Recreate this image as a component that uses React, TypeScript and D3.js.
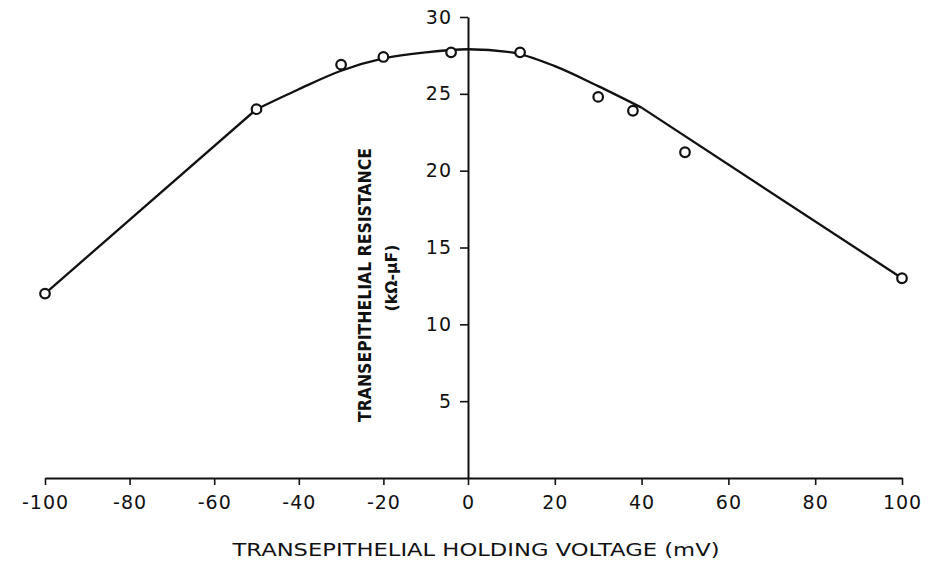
import { useEffect, useRef } from "react";
import * as d3 from "d3";

const WIDTH = 928;
const HEIGHT = 563;

// axis ticks
const X_TICKS = [-100, -80, -60, -40, -20, 0, 20, 40, 60, 80, 100];
const Y_TICKS = [5, 10, 15, 20, 25, 30];

// measured points (holding voltage mV, resistance kOhm-uF)
const POINT_V = [-100, -50, -30, -20, -4, 12, 30, 38, 50, 100];
const POINT_R = [12.0, 24.0, 26.9, 27.4, 27.7, 27.7, 24.8, 23.9, 21.2, 13.0];

// hand drawn fit: straight on both flanks, curved on top
const LEFT_V = [-100, -50];
const LEFT_R = [12.0, 24.0];
const TOP_V = [-50, -40, -30, -20, -10, 0, 10, 20, 30, 40];
const TOP_R = [24.0, 25.3, 26.5, 27.3, 27.7, 27.9, 27.7, 26.8, 25.5, 24.1];
const RIGHT_V = [40, 100];
const RIGHT_R = [24.1, 13.0];

const FONT = "'DejaVu Sans', sans-serif";

export default function App() {
  const xAxisRef = useRef<SVGGElement>(null);
  const yAxisRef = useRef<SVGGElement>(null);

  // the scan is not quite linear around 0, so a piecewise scale
  const xScale = d3.scaleLinear().domain([-100, 0, 100]).range([45, 468, 902]);
  const yScale = d3.scaleLinear().domain([0, 30]).range([478, 17]);

  useEffect(() => {
    const gx = d3.select(xAxisRef.current);
    gx.selectAll("*").remove();
    gx.call(
      d3
        .axisBottom(xScale)
        .tickValues(X_TICKS)
        .tickSize(7)
        .tickSizeOuter(0)
        .tickPadding(11)
        .tickFormat((d) => String(d))
    );
    gx.select(".domain").attr("stroke", "#111").attr("stroke-width", 2);
    gx.selectAll(".tick line").attr("stroke", "#111").attr("stroke-width", 1.6);
    gx.selectAll(".tick text")
      .attr("fill", "#111")
      .attr("font-family", FONT)
      .attr("font-size", 19)
      .attr("letter-spacing", 1);

    const gy = d3.select(yAxisRef.current);
    gy.selectAll("*").remove();
    gy.call(d3.axisLeft(yScale).tickValues(Y_TICKS).tickSize(8).tickSizeOuter(0).tickPadding(8));
    gy.select(".domain").attr("stroke", "#111").attr("stroke-width", 2);
    gy.selectAll(".tick line").attr("stroke", "#111").attr("stroke-width", 1.6);
    gy.selectAll(".tick text")
      .attr("fill", "#111")
      .attr("font-family", FONT)
      .attr("font-size", 19)
      .attr("letter-spacing", 1);
  }, []);

  const pairs = (vs: number[], rs: number[]) => vs.map((v, i) => [v, rs[i]] as [number, number]);
  const straight = d3
    .line<[number, number]>()
    .x((d) => xScale(d[0]))
    .y((d) => yScale(d[1]));
  const smooth = d3
    .line<[number, number]>()
    .x((d) => xScale(d[0]))
    .y((d) => yScale(d[1]))
    .curve(d3.curveMonotoneX);

  const fitPaths = [
    straight(pairs(LEFT_V, LEFT_R)),
    smooth(pairs(TOP_V, TOP_R)),
    straight(pairs(RIGHT_V, RIGHT_R)),
  ];

  return (
    <div>
      <style>{`body{margin:0;background:#fff}`}</style>
      <svg width={WIDTH} height={HEIGHT} style={{ display: "block", background: "#fff" }}>
        <g ref={xAxisRef} transform={`translate(0,${yScale(0)})`} />
        <g ref={yAxisRef} transform={`translate(${xScale(0)},0)`} />

        {fitPaths.map((p, i) => (
          <path key={i} d={p || ""} fill="none" stroke="#111" strokeWidth={2.3} />
        ))}

        {POINT_V.map((v, i) => (
          <circle
            key={i}
            cx={xScale(v)}
            cy={yScale(POINT_R[i])}
            r={4.8}
            fill="#fff"
            stroke="#111"
            strokeWidth={2.2}
          />
        ))}

        <text
          x={476}
          y={556}
          textAnchor="middle"
          fontFamily={FONT}
          fontSize={18}
          fill="#111"
          textLength={487}
          lengthAdjust="spacingAndGlyphs"
        >
          TRANSEPITHELIAL HOLDING VOLTAGE (mV)
        </text>

        <g transform="translate(365,285) rotate(-90)">
          <text
            textAnchor="middle"
            dominantBaseline="central"
            fontFamily={FONT}
            fontSize={17}
            fontWeight="bold"
            fill="#111"
            textLength={274}
            lengthAdjust="spacingAndGlyphs"
          >
            TRANSEPITHELIAL RESISTANCE
          </text>
        </g>
        <g transform="translate(392,278) rotate(-90)">
          <text
            textAnchor="middle"
            dominantBaseline="central"
            fontFamily={FONT}
            fontSize={15}
            fontWeight="bold"
            fill="#111"
            textLength={67}
            lengthAdjust="spacingAndGlyphs"
          >
            (kΩ-μF)
          </text>
        </g>
      </svg>
    </div>
  );
}
